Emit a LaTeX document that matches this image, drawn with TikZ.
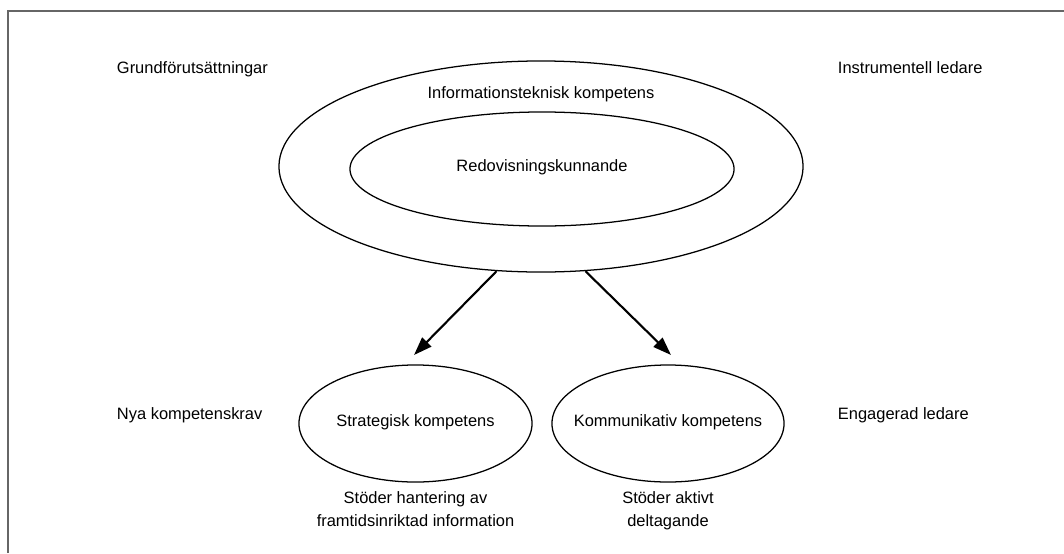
\documentclass[tikz,border=0pt]{standalone}
\usepackage{fontspec}
\setmainfont{Liberation Sans}
\usetikzlibrary{shapes.geometric,arrows.meta}
\tikzset{
  ring/.style={ellipse,draw,line width=0.9pt,inner sep=0pt},
  lbl/.style={anchor=base west},
  arr/.style={-{Triangle[length=13pt,width=9pt]},line width=1.5pt}
}
\begin{document}
\begin{tikzpicture}[x=0.025cm,y=-0.025cm,font=\fontsize{11.7}{16}\selectfont]
  \useasboundingbox (0,0) rectangle (1064,553);
  \draw[black!60,line width=0.8pt] (8,553) -- (8,11) -- (1064,11);
  \node[ring,minimum width=13.1cm,minimum height=5.275cm] (itk) at (541,166.5) {};
  \node[ring,minimum width=9.6cm,minimum height=2.85cm,label={[yshift=1pt]center:Redovisningskunnande}] (redo) at (542,169) {};
  \node[anchor=base] (itktext) at (541,98) {Informationsteknisk kompetens};
  \node[ring,minimum width=5.825cm,minimum height=2.925cm,label={[yshift=1pt]center:Strategisk kompetens}] (strat) at (415.5,423.5) {};
  \node[ring,minimum width=5.8cm,minimum height=2.925cm,label={[yshift=1pt]center:Kommunikativ kompetens}] (komm) at (668,423.5) {};
  \node[lbl] (grund) at (112,73) {Grundförutsättningar};
  \node[lbl] (instr) at (833,73) {Instrumentell ledare};
  \node[lbl] (nya) at (112,419) {Nya kompetenskrav};
  \node[lbl] (eng) at (833,419) {Engagerad ledare};
  \node[align=center,anchor=north] (stratinfo) at (415.5,487) {Stöder hantering av\\framtidsinriktad information};
  \node[align=center,anchor=north] (komminfo) at (668,487) {Stöder aktivt\\deltagande};
  \coordinate (tipS) at (414,355);
  \coordinate (tipK) at (671,355);
  \begin{scope}[arr]
    \draw (itk.247.6) to (tipS);
    \draw (itk.293.4) to (tipK);
  \end{scope}
\end{tikzpicture}
\end{document}
